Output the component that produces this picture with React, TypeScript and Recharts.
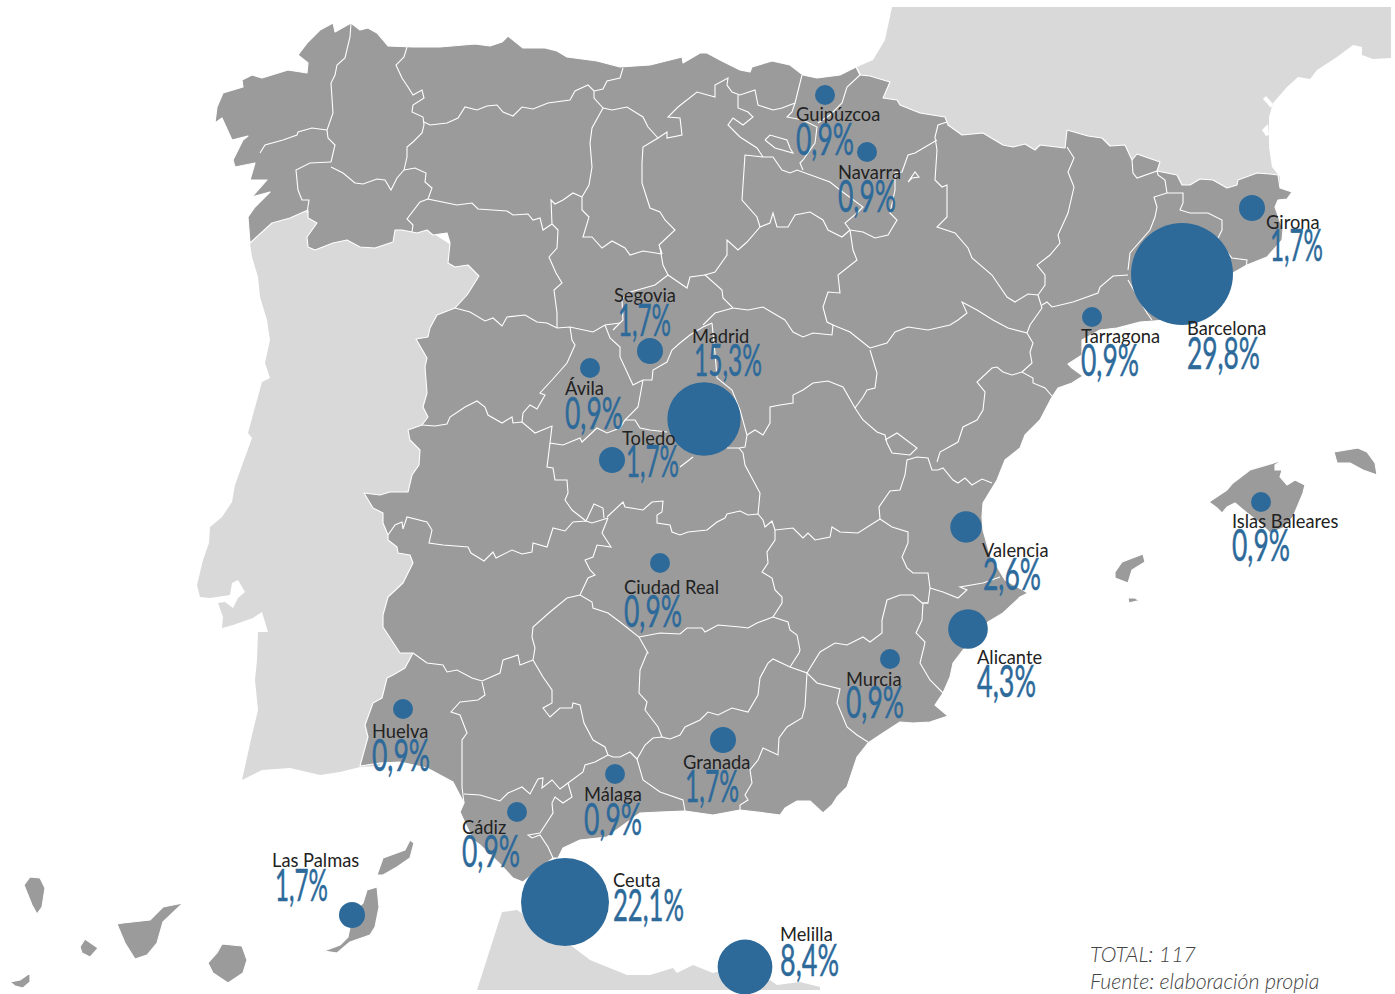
import { LabelList, Scatter, ScatterChart, XAxis, YAxis, ZAxis } from "recharts";

type Pair = [number, number];

const WIDTH = 1395;
const HEIGHT = 994;

const GREY = "#9b9b9b";
const LIGHT = "#d9d9d9";
const BLUE = "#2d6a9a";
const INK = "#222222";

// provinces in the study, everything lines up by index
const provinces = ["Guipúzcoa", "Navarra", "Girona", "Barcelona", "Tarragona", "Segovia", "Madrid", "Ávila", "Toledo", "Valencia", "Islas Baleares", "Ciudad Real", "Alicante", "Murcia", "Huelva", "Granada", "Málaga", "Cádiz", "Las Palmas", "Ceuta", "Melilla"];
const shares = [0.9, 0.9, 1.7, 29.8, 0.9, 1.7, 15.3, 0.9, 1.7, 2.6, 0.9, 0.9, 4.3, 0.9, 0.9, 1.7, 0.9, 0.9, 1.7, 22.1, 8.4];
const shareLabels = ["0,9%", "0,9%", "1,7%", "29,8%", "0,9%", "1,7%", "15,3%", "0,9%", "1,7%", "2,6%", "0,9%", "0,9%", "4,3%", "0,9%", "0,9%", "1,7%", "0,9%", "0,9%", "1,7%", "22,1%", "8,4%"];
const lon = [825, 867, 1252, 1182, 1092, 650, 704, 590, 612, 966, 1261, 660, 968, 890, 403, 723, 615, 517, 352, 565, 745];
const lat = [95, 152, 208, 274, 317, 351, 419, 368, 460, 527, 502, 563, 629, 659, 709, 740, 774, 812, 915, 902, 967];

// label anchors
const nameX = [796, 838, 1266, 1187, 1081, 614, 692, 565, 622, 982, 1232, 624, 977, 846, 372, 683, 584, 462, 272, 613, 780];
const nameY = [121, 179, 229, 335, 343, 302, 343, 395, 445, 557, 528, 594, 664, 686, 738, 769, 801, 834, 867, 887, 941];
const shareX = [796, 838, 1270, 1187, 1081, 618, 694, 565, 626, 983, 1232, 624, 977, 846, 372, 685, 584, 462, 275, 613, 780];
const shareY = [155, 212, 261, 369, 376, 336, 376, 429, 477, 590, 561, 627, 697, 718, 771, 802, 835, 867, 901, 921, 976];
const shareW = [58, 58, 53, 73, 58, 53, 68, 58, 53, 58, 58, 58, 59, 58, 58, 54, 58, 58, 53, 71, 59];

const totalNote = "TOTAL: 117";
const sourceNote = "Fuente: elaboración propia";

const portugal: Pair[] = [[250, 243], [270, 205], [330, 205], [420, 225], [490, 270], [440, 420], [430, 640], [380, 766], [360, 767], [340, 772], [320, 775], [290, 768], [262, 770], [242, 780], [252, 735], [258, 710], [255, 680], [257, 660], [258, 632], [268, 632], [262, 612], [253, 618], [233, 625], [222, 628], [223, 617], [218, 603], [225, 602], [233, 608], [238, 598], [245, 592], [238, 580], [232, 583], [230, 595], [210, 598], [200, 597], [197, 585], [203, 560], [209, 543], [210, 527], [222, 517], [232, 502], [235, 485], [252, 438], [248, 433], [262, 382], [270, 378], [265, 363], [270, 340], [267, 320], [260, 297], [258, 277], [252, 257]];

const france: Pair[] = [[892, 7], [1391, 7], [1391, 58], [1373, 59], [1362, 55], [1362, 47], [1353, 45], [1337, 57], [1317, 70], [1310, 79], [1298, 77], [1287, 87], [1273, 103], [1269, 117], [1269, 147], [1272, 167], [1280, 177], [1280, 200], [1100, 200], [900, 150], [857, 67], [873, 60], [885, 40]];

const africa: Pair[] = [[477, 990], [502, 912], [517, 910], [540, 925], [573, 947], [590, 960], [627, 975], [650, 975], [673, 968], [677, 973], [693, 965], [713, 973], [745, 965], [770, 980], [777, 985], [800, 982], [820, 987], [820, 990]];

const spain: Pair[] = [[351, 23], [360, 30], [368, 28], [377, 33], [388, 46], [413, 47], [440, 47], [475, 44], [490, 46], [502, 42], [508, 36], [523, 48], [545, 48], [557, 51], [567, 57], [597, 61], [620, 67], [650, 65], [682, 57], [683, 63], [700, 53], [707, 53], [720, 60], [740, 70], [750, 72], [752, 67], [772, 61], [790, 65], [803, 75], [817, 78], [840, 75], [856, 67], [860, 75], [870, 76], [890, 82], [883, 98], [897, 100], [900, 105], [920, 113], [945, 117], [948, 125], [962, 135], [983, 133], [1003, 145], [1013, 147], [1025, 144], [1035, 150], [1040, 145], [1065, 148], [1067, 130], [1088, 136], [1102, 138], [1110, 146], [1125, 145], [1132, 160], [1137, 154], [1160, 162], [1157, 171], [1177, 175], [1182, 185], [1190, 185], [1200, 179], [1213, 180], [1227, 188], [1237, 185], [1238, 180], [1257, 173], [1270, 174], [1278, 175], [1280, 188], [1292, 192], [1287, 199], [1278, 200], [1275, 207], [1283, 230], [1282, 240], [1267, 257], [1247, 265], [1233, 273], [1200, 305], [1167, 320], [1140, 322], [1117, 328], [1100, 330], [1082, 340], [1082, 355], [1068, 364], [1072, 368], [1083, 376], [1072, 383], [1058, 388], [1052, 397], [1040, 420], [1025, 435], [1020, 448], [1005, 460], [997, 480], [983, 503], [982, 517], [983, 530], [990, 555], [1005, 580], [1028, 593], [1020, 597], [1003, 613], [988, 622], [975, 640], [963, 650], [953, 663], [950, 677], [943, 693], [935, 705], [948, 716], [930, 722], [913, 723], [900, 722], [883, 733], [868, 743], [857, 757], [847, 787], [837, 797], [832, 805], [823, 813], [810, 801], [797, 801], [785, 808], [780, 815], [765, 813], [740, 810], [713, 815], [685, 811], [660, 812], [640, 813], [607, 837], [580, 840], [563, 848], [558, 858], [553, 858], [523, 882], [513, 878], [503, 867], [480, 845], [473, 840], [460, 812], [464, 803], [453, 782], [427, 768], [400, 762], [380, 763], [360, 766], [368, 737], [365, 725], [373, 703], [382, 698], [387, 678], [393, 675], [405, 668], [413, 653], [400, 653], [383, 627], [383, 615], [388, 597], [403, 583], [413, 563], [410, 555], [398, 553], [397, 547], [388, 540], [388, 535], [383, 523], [383, 513], [373, 508], [364, 493], [380, 495], [390, 492], [408, 492], [412, 475], [419, 465], [420, 450], [410, 440], [408, 430], [422, 425], [428, 417], [423, 407], [427, 393], [425, 367], [427, 358], [416, 339], [428, 337], [430, 328], [437, 315], [455, 308], [467, 295], [479, 276], [468, 265], [455, 267], [448, 263], [450, 243], [447, 233], [433, 235], [427, 230], [417, 233], [402, 230], [395, 230], [393, 242], [375, 248], [360, 247], [347, 240], [333, 243], [315, 250], [308, 247], [307, 237], [317, 223], [308, 218], [308, 210], [290, 218], [272, 223], [250, 243], [248, 217], [255, 207], [270, 192], [252, 197], [267, 180], [250, 180], [255, 163], [235, 167], [233, 160], [243, 140], [248, 136], [232, 140], [222, 118], [215, 123], [217, 107], [223, 93], [243, 87], [242, 80], [252, 75], [262, 78], [288, 70], [307, 73], [308, 63], [298, 55], [308, 42], [320, 30], [333, 23], [335, 32]];

const mallorca: Pair[] = [[1209, 502], [1227, 490], [1233, 483], [1250, 470], [1267, 465], [1283, 460], [1275, 465], [1275, 470], [1282, 470], [1280, 477], [1287, 485], [1295, 480], [1305, 485], [1303, 493], [1293, 517], [1283, 528], [1270, 533], [1260, 523], [1247, 513], [1235, 503], [1227, 507], [1222, 513], [1217, 508]];
const menorca: Pair[] = [[1334, 452], [1358, 448], [1367, 452], [1375, 463], [1377, 475], [1363, 470], [1350, 463], [1337, 463]];
const ibiza: Pair[] = [[1115, 572], [1122, 562], [1143, 554], [1145, 562], [1132, 570], [1128, 583], [1115, 578]];
const formentera: Pair[] = [[1128, 598], [1135, 598], [1143, 603], [1137, 601], [1129, 603]];
const laPalma: Pair[] = [[24, 885], [30, 877], [40, 878], [45, 888], [42, 907], [37, 914], [32, 905]];
const gomera: Pair[] = [[80, 947], [85, 939], [98, 948], [90, 957], [82, 953]];
const hierro: Pair[] = [[10, 982], [20, 980], [30, 973], [30, 982], [23, 988], [15, 986]];
const tenerife: Pair[] = [[117, 924], [123, 923], [150, 920], [163, 907], [183, 903], [163, 922], [157, 943], [147, 955], [135, 959], [125, 943]];
const granCanaria: Pair[] = [[222, 944], [242, 946], [247, 960], [243, 973], [228, 983], [213, 973], [208, 963], [217, 953]];
const fuerteventura: Pair[] = [[367, 890], [377, 887], [379, 907], [375, 927], [370, 935], [350, 942], [337, 953], [324, 951], [340, 945], [348, 937], [353, 913], [363, 903]];
const lanzarote: Pair[] = [[377, 875], [383, 858], [405, 850], [410, 840], [414, 843], [410, 858], [397, 867], [383, 875]];

const lagoons: Pair[][] = [
  [[1263, 99], [1266, 96], [1273, 104], [1271, 108]],
  [[1262, 130], [1268, 124], [1269, 135], [1266, 136]],
];

const borders: Pair[][] = [
  // galicia, asturias, leon
  [[351, 23], [350, 37], [345, 58], [337, 65], [335, 75], [331, 83], [333, 113], [327, 130], [328, 138], [335, 145], [331, 162]],
  [[327, 130], [312, 128], [298, 132], [297, 135], [283, 140], [265, 145], [260, 153]],
  [[331, 162], [310, 163], [296, 170], [298, 190], [302, 200], [309, 200], [307, 213]],
  [[331, 167], [343, 173], [355, 183], [363, 184], [377, 179], [385, 180], [391, 190], [397, 178], [404, 170]],
  [[407, 47], [404, 57], [396, 65], [402, 78], [408, 87], [413, 95], [422, 90], [424, 98], [413, 105], [412, 112], [423, 117], [424, 125], [422, 133], [413, 142], [407, 147], [407, 157], [404, 170]],
  [[424, 122], [430, 125], [447, 123], [458, 118], [465, 107], [477, 110], [487, 106], [497, 105], [503, 112], [513, 116], [522, 107], [533, 109], [548, 103], [570, 100], [575, 91], [588, 85], [594, 91], [603, 89], [607, 81], [620, 78], [623, 68]],
  [[594, 91], [594, 98], [603, 108], [592, 128], [590, 143], [592, 167], [589, 185], [582, 197]],
  [[404, 170], [415, 168], [426, 173], [425, 182], [432, 188], [428, 199], [457, 205], [472, 203], [478, 209], [507, 211], [513, 215], [528, 214], [533, 220], [540, 218], [543, 230], [552, 224]],
  [[428, 199], [420, 202], [407, 219], [413, 225], [412, 232]],
  [[582, 197], [573, 193], [563, 200], [555, 204], [551, 200], [552, 224], [558, 230], [557, 248], [549, 257], [556, 273], [562, 283], [554, 290], [557, 313], [557, 328]],
  [[582, 197], [582, 210], [589, 217], [583, 237], [592, 237], [602, 248], [612, 241], [625, 248], [630, 255], [643, 251], [662, 254]],
  [[455, 308], [470, 312], [485, 321], [493, 318], [502, 326], [507, 317], [525, 315], [537, 322], [547, 323], [557, 328], [570, 327], [593, 332], [605, 325], [620, 323]],
  [[570, 327], [572, 340], [575, 345], [567, 363], [552, 380], [540, 393], [545, 395], [537, 409], [530, 405], [523, 413], [522, 422]],
  [[422, 425], [435, 426], [447, 424], [450, 417], [465, 407], [477, 401], [485, 407], [488, 415], [502, 423], [512, 417], [513, 423], [522, 422], [535, 433], [552, 426], [550, 443], [563, 445], [580, 438], [582, 442], [597, 428], [607, 433], [620, 428], [625, 420]],
  // extremadura
  [[550, 443], [547, 467], [553, 468], [555, 480], [567, 480], [568, 493], [565, 500], [572, 510], [586, 521]],
  [[388, 535], [395, 525], [402, 522], [403, 529], [407, 517], [427, 522], [432, 530], [429, 543], [443, 545], [468, 547], [471, 553], [484, 561], [493, 552], [496, 558], [512, 550], [522, 554], [532, 552], [533, 543], [547, 547], [553, 528], [565, 531], [573, 522], [586, 521], [592, 523], [608, 518]],
  [[586, 521], [594, 504], [603, 508], [604, 518]],
  [[608, 518], [602, 533], [611, 547], [597, 545], [593, 557], [585, 560], [590, 570], [595, 575], [588, 578], [580, 595], [567, 598], [550, 612], [533, 627], [532, 637], [535, 648], [533, 660]],
  [[580, 595], [592, 602], [593, 608], [608, 613], [620, 622], [639, 637], [648, 653], [647, 653], [640, 670], [639, 693], [647, 702], [645, 710], [658, 727], [662, 737]],
  // castilla la mancha
  [[607, 517], [623, 502], [625, 507], [643, 510], [652, 502], [663, 501], [662, 512], [657, 515], [657, 523], [670, 525], [672, 532], [680, 535], [688, 532], [707, 530], [717, 522], [725, 518], [727, 514], [740, 511], [748, 515], [758, 514], [763, 520], [765, 527], [772, 521], [775, 530], [793, 528], [803, 538], [808, 533], [815, 540], [830, 537], [832, 527], [840, 532], [858, 533], [880, 519]],
  [[758, 514], [760, 493], [745, 465], [743, 453], [739, 448]],
  [[639, 637], [660, 633], [680, 634], [687, 628], [702, 628], [705, 632], [718, 625], [740, 627], [748, 628], [757, 623], [773, 617]],
  [[775, 530], [775, 540], [767, 552], [768, 563], [762, 572], [772, 578], [775, 590], [782, 597], [782, 603], [773, 617], [788, 622], [790, 630], [797, 635], [800, 650], [799, 653], [790, 667]],
  [[807, 673], [820, 652], [835, 643], [847, 645], [863, 637], [870, 642], [882, 633], [882, 620], [887, 600], [900, 595], [913, 595], [922, 603], [928, 603]],
  [[880, 519], [892, 527], [908, 532], [908, 543], [902, 557], [907, 568], [913, 573], [928, 573], [930, 588], [928, 603], [923, 603], [922, 620], [916, 633], [925, 642], [924, 647], [920, 663], [930, 680], [943, 693]],
  [[930, 588], [943, 592], [958, 598], [967, 590], [960, 587], [983, 583], [1000, 577]],
  [[880, 519], [879, 507], [890, 491], [900, 490], [905, 475], [907, 460], [917, 457], [928, 458], [932, 470], [938, 470], [943, 468], [953, 480], [958, 483], [965, 478], [972, 485], [982, 479], [992, 483]],
  [[937, 462], [940, 452], [958, 442], [963, 427], [977, 420], [983, 410], [985, 392], [977, 382], [992, 368], [997, 367], [1003, 372], [1012, 375], [1022, 372], [1033, 378], [1033, 383], [1045, 388], [1052, 396]],
  [[1022, 372], [1032, 363], [1030, 352], [1033, 343], [1027, 333], [1008, 328], [993, 320], [977, 310], [962, 302], [967, 313], [958, 320], [950, 325], [928, 330], [908, 327], [895, 332], [887, 343], [870, 348]],
  [[885, 440], [897, 433], [917, 448], [910, 455], [892, 453], [887, 443], [885, 435], [877, 432], [863, 420], [855, 408], [843, 387], [828, 381], [813, 383], [803, 390], [793, 395], [793, 403], [780, 405], [770, 407], [770, 423], [763, 435], [755, 430], [747, 435]],
  [[855, 408], [863, 397], [867, 390], [875, 388], [877, 373], [870, 350]],
  [[785, 320], [793, 332], [803, 337], [813, 333], [832, 335], [833, 325], [850, 332], [870, 348]],
  // madrid
  [[712, 323], [715, 353], [717, 378], [732, 390], [740, 410], [747, 435], [745, 447], [739, 448], [727, 448]],
  [[643, 380], [652, 380], [653, 370], [667, 362], [672, 350], [680, 343], [690, 335], [703, 327], [712, 323]],
  [[643, 380], [633, 385], [620, 357], [620, 347], [610, 338], [605, 325]],
  [[643, 380], [638, 407], [625, 420], [635, 420], [640, 428], [650, 430], [667, 432]],
  [[680, 467], [693, 457]],
  // castilla norte
  [[662, 254], [659, 245], [675, 230], [665, 220], [660, 212], [650, 208], [642, 183], [642, 163], [643, 147], [658, 138], [648, 127], [643, 117], [627, 107], [612, 110], [603, 108]],
  [[658, 138], [667, 132], [667, 138], [682, 135], [680, 118], [668, 117], [678, 107], [697, 92], [715, 97], [715, 85], [728, 78], [727, 85], [732, 92], [740, 95], [755, 90], [758, 105], [773, 110], [782, 108], [795, 103], [802, 75]],
  [[738, 95], [738, 108], [748, 112], [753, 117], [743, 125], [733, 118], [728, 125], [735, 132], [740, 137], [757, 148], [763, 157], [773, 157], [782, 170], [790, 173], [797, 170], [830, 182], [840, 190], [863, 207], [857, 213], [845, 223], [850, 230]],
  [[765, 140], [770, 135], [787, 140], [790, 148], [793, 153], [775, 148], [765, 140]],
  [[860, 75], [847, 87], [842, 103], [830, 115], [818, 123]],
  [[795, 103], [792, 112], [787, 117], [803, 120], [817, 127], [815, 143], [803, 160], [800, 163], [803, 170]],
  [[763, 157], [745, 155], [742, 200], [757, 217], [760, 227], [770, 223], [773, 213], [777, 227], [788, 227], [795, 215], [810, 212], [823, 220], [828, 230], [842, 237], [850, 230]],
  [[760, 227], [747, 242], [738, 250], [727, 240], [727, 255], [715, 272], [705, 275], [722, 290], [723, 298], [733, 308], [748, 310], [763, 307], [773, 313], [785, 320]],
  [[733, 308], [715, 313], [703, 325]],
  [[705, 275], [690, 277], [687, 288], [668, 275], [655, 285], [627, 293], [622, 300], [623, 320], [613, 330]],
  [[662, 254], [660, 248], [663, 265], [668, 275]],
  [[850, 230], [853, 250], [857, 260], [838, 275], [840, 293], [828, 292], [823, 307], [827, 322], [833, 325]],
  // navarra, aragon, catalunya
  [[937, 140], [915, 153], [908, 155], [902, 172], [895, 173], [895, 190], [890, 213], [897, 220], [888, 235], [875, 238], [863, 232], [850, 230]],
  [[947, 122], [938, 125], [935, 137], [937, 150], [935, 180], [942, 187], [947, 185], [947, 217], [937, 227], [955, 233], [968, 248], [972, 258], [992, 275], [1007, 297], [1015, 302], [1028, 294], [1038, 295]],
  [[908, 182], [915, 172], [919, 177], [912, 178], [908, 182]],
  [[1067, 147], [1074, 158], [1068, 172], [1074, 187], [1068, 213], [1058, 235], [1060, 243], [1050, 255], [1037, 265], [1045, 275], [1045, 285], [1038, 295], [1042, 308], [1030, 325], [1027, 333]],
  [[1042, 305], [1047, 302], [1052, 307], [1073, 302], [1098, 293], [1100, 287], [1113, 276], [1128, 275]],
  [[1128, 270], [1130, 253], [1150, 230], [1155, 217], [1157, 207], [1154, 197], [1167, 193], [1183, 193], [1183, 203], [1180, 210], [1190, 213], [1208, 213], [1222, 220], [1222, 230], [1217, 240], [1232, 258], [1247, 260], [1246, 268]],
  [[1167, 193], [1165, 180], [1158, 175], [1157, 171], [1137, 178], [1133, 173], [1132, 160]],
  [[1128, 280], [1147, 313], [1152, 320]],
  // andalucia
  [[413, 653], [427, 663], [443, 665], [447, 672], [457, 670], [472, 678], [482, 681], [500, 673], [503, 660], [518, 655], [520, 665], [533, 660]],
  [[482, 682], [485, 695], [478, 700], [460, 702], [451, 712], [460, 715], [467, 733], [462, 740], [462, 787], [464, 803]],
  [[464, 794], [480, 795], [500, 801], [508, 793], [522, 787], [530, 794], [538, 779], [543, 778], [542, 788], [552, 780], [560, 789], [568, 783]],
  [[533, 660], [543, 677], [552, 690], [552, 703], [543, 708], [550, 717], [560, 708], [572, 708], [573, 703], [580, 705], [584, 723], [593, 740], [605, 747], [608, 755], [595, 762], [585, 765], [583, 772], [568, 783], [572, 797], [563, 803], [555, 797], [552, 803], [553, 813], [540, 833], [528, 835], [532, 838], [540, 835], [548, 847], [553, 858]],
  [[608, 755], [613, 757], [620, 757], [630, 752], [637, 759], [645, 745], [653, 738], [662, 737], [670, 739], [680, 735], [685, 727], [700, 720], [708, 712], [718, 715], [732, 708], [748, 712], [758, 695], [760, 678], [768, 663], [773, 659], [790, 667], [807, 673], [805, 707], [802, 718], [787, 727], [779, 738], [778, 755], [763, 748], [758, 760], [750, 770], [752, 783], [745, 795], [748, 800], [740, 805], [740, 810]],
  [[807, 673], [817, 683], [840, 689], [837, 703], [847, 727], [857, 735], [868, 742]],
  [[637, 759], [643, 780], [660, 792], [683, 800], [685, 811]],
];

const landShapes: { outline: Pair[]; fill: string }[] = [
  { outline: portugal, fill: LIGHT },
  { outline: france, fill: LIGHT },
  { outline: africa, fill: LIGHT },
  { outline: spain, fill: GREY },
  ...[mallorca, menorca, ibiza, formentera, laPalma, gomera, hierro, tenerife, granCanaria, fuerteventura, lanzarote].map((outline) => ({ outline, fill: GREY })),
  ...lagoons.map((outline) => ({ outline, fill: "#ffffff" })),
];

const toPoints = (pairs: Pair[]) => pairs.map(([x, y]) => ({ x, y }));

const bubbles = provinces.map((name, i) => ({ name, share: shares[i], label: shareLabels[i], x: lon[i], y: lat[i] }));

const closedPath = (fill: string, coast: boolean) => (props: any) => (
  <path
    d={"M" + props.points.map((p: any) => `${p.x},${p.y}`).join("L") + "Z"}
    fill={fill}
    stroke={coast ? "#ffffff" : "none"}
    strokeWidth={1.1}
    strokeLinejoin="round"
  />
);

const NameLabel = (props: any) => (
  <text x={nameX[props.index]} y={nameY[props.index]} fill={INK} fontFamily="Lato" fontSize={18.3}>
    {props.value}
  </text>
);

const ShareLabel = (props: any) => (
  <text
    x={shareX[props.index]}
    y={shareY[props.index]}
    fill={BLUE}
    stroke={BLUE}
    strokeWidth={0.5}
    fontFamily="Lato"
    fontSize={45}
    textLength={shareW[props.index]}
    lengthAdjust="spacingAndGlyphs"
  >
    {props.value}
  </text>
);

const App = () => {
  return (
    <div style={{ position: "absolute", left: 0, top: 0, width: WIDTH, height: HEIGHT }}>
      <ScatterChart width={WIDTH} height={HEIGHT} margin={{ top: 0, right: 0, bottom: 0, left: 0 }}>
        <XAxis type="number" dataKey="x" domain={[0, WIDTH]} hide />
        <YAxis type="number" dataKey="y" domain={[0, HEIGHT]} reversed hide />
        <ZAxis type="number" dataKey="share" domain={[0.9, 29.8]} range={[314, 8171]} />
        {landShapes.map((s, i) => (
          <Scatter
            key={"land" + i}
            data={toPoints(s.outline)}
            shape={() => <g />}
            line={closedPath(s.fill, s.fill === GREY)}
            isAnimationActive={false}
          />
        ))}
        {borders.map((b, i) => (
          <Scatter
            key={"border" + i}
            data={toPoints(b)}
            shape={() => <g />}
            line={{ stroke: "#ffffff", strokeWidth: 1.1, fill: "none" }}
            isAnimationActive={false}
          />
        ))}
        <Scatter data={bubbles} fill={BLUE} isAnimationActive={false}>
          <LabelList dataKey="name" content={NameLabel} />
          <LabelList dataKey="label" content={ShareLabel} />
        </Scatter>
        <text x={1090} y={962} fill="#444444" fontFamily="Lato" fontStyle="italic" fontWeight={300} fontSize={21.3}>
          {totalNote}
        </text>
        <text x={1090} y={989} fill="#444444" fontFamily="Lato" fontStyle="italic" fontWeight={300} fontSize={21.3}>
          {sourceNote}
        </text>
      </ScatterChart>
    </div>
  );
};

export default App;
